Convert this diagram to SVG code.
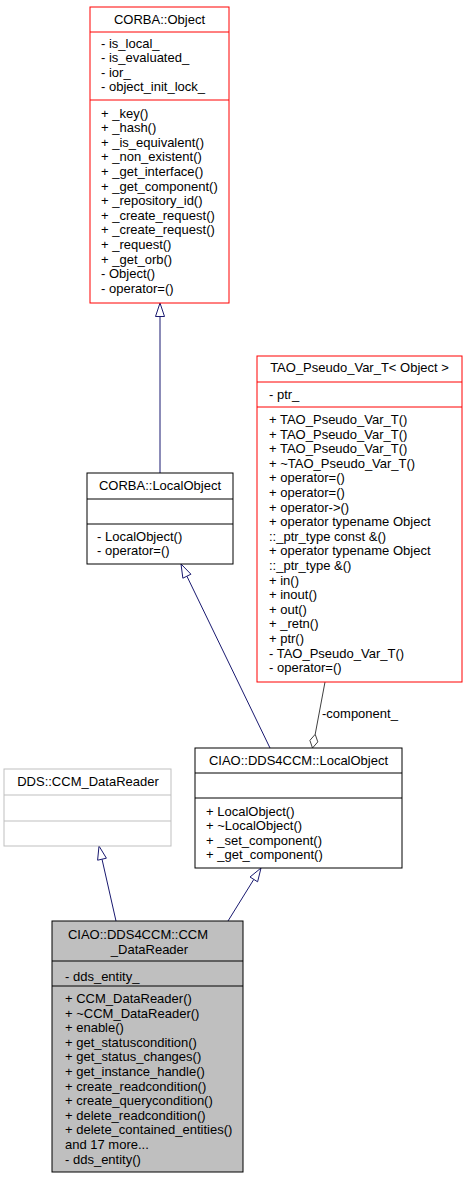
<svg xmlns="http://www.w3.org/2000/svg" width="467" height="1179" viewBox="0 0 467 1179">
<style>
text{font-family:"Liberation Sans",Arial,Helvetica,sans-serif;font-size:13px;fill:#000}
.c{text-anchor:middle}
.red{fill:#fff;stroke:#ff0000;stroke-width:1}
.blk{fill:#fff;stroke:#000;stroke-width:1}
.gry{fill:#fff;stroke:#bfbfbf;stroke-width:1}
.cur{fill:#bfbfbf;stroke:#000;stroke-width:1}
.inh{stroke:#191970;stroke-width:1;fill:none}
.inhh{stroke:#191970;stroke-width:1;fill:#fff}
.comp{stroke:#404040;stroke-width:1;fill:none}
.comph{stroke:#404040;stroke-width:1;fill:#fff}
</style>
<rect width="467" height="1179" fill="#fff"/>
<g id="connectors">
<line class="inh" x1="160" y1="316.5" x2="160" y2="473"/>
<polygon class="inhh" points="160,303 155.5,316.5 164.5,316.5"/>
<line class="inh" x1="186.9" y1="576.2" x2="270" y2="748"/>
<polygon class="inhh" points="181,564 190.95,574.2 182.85,578.2"/>
<line class="inh" x1="102" y1="859.2" x2="116" y2="921"/>
<polygon class="inhh" points="99,846 106.4,858.2 97.6,860.2"/>
<line class="inh" x1="253.8" y1="879.4" x2="228" y2="921"/>
<polygon class="inhh" points="261,868 257.6,881.8 250,877"/>
<line class="comp" x1="325" y1="682" x2="315.2" y2="734.3"/>
<polygon class="comph" points="312.5,748 309.9,740.4 315.2,734.3 317.8,741.9"/>
<text x="322" y="718">-component_</text>
</g>
<g id="corba_object">
<rect class="red" x="90" y="7" width="139" height="296"/>
<line class="red" x1="90" y1="32" x2="229" y2="32"/>
<line class="red" x1="90" y1="100" x2="229" y2="100"/>
<text class="c" x="159.5" y="23.5">CORBA::Object</text>
<text x="101" y="47.5">- is_local_</text>
<text x="101" y="62.1">- is_evaluated_</text>
<text x="101" y="76.7">- ior_</text>
<text x="101" y="91.3">- object_init_lock_</text>
<text x="101" y="117.5">+ _key()</text>
<text x="101" y="132.1">+ _hash()</text>
<text x="101" y="146.7">+ _is_equivalent()</text>
<text x="101" y="161.3">+ _non_existent()</text>
<text x="101" y="175.9">+ _get_interface()</text>
<text x="101" y="190.5">+ _get_component()</text>
<text x="101" y="205.1">+ _repository_id()</text>
<text x="101" y="219.7">+ _create_request()</text>
<text x="101" y="234.3">+ _create_request()</text>
<text x="101" y="248.9">+ _request()</text>
<text x="101" y="263.5">+ _get_orb()</text>
<text x="101" y="278.1">- Object()</text>
<text x="101" y="292.7">- operator=()</text>
</g>
<g id="corba_localobject">
<rect class="blk" x="87" y="473" width="146" height="91"/>
<line class="blk" x1="87" y1="499" x2="233" y2="499"/>
<line class="blk" x1="87" y1="524" x2="233" y2="524"/>
<text class="c" x="160" y="490">CORBA::LocalObject</text>
<text x="97" y="540.5">- LocalObject()</text>
<text x="97" y="555.1">- operator=()</text>
</g>
<g id="tao_pseudo_var">
<rect class="red" x="257" y="356" width="205" height="326"/>
<line class="red" x1="257" y1="382" x2="462" y2="382"/>
<line class="red" x1="257" y1="407" x2="462" y2="407"/>
<text class="c" x="359.5" y="372">TAO_Pseudo_Var_T&lt; Object &gt;</text>
<text x="269" y="398.5">- ptr_</text>
<text x="269" y="424">+ TAO_Pseudo_Var_T()</text>
<text x="269" y="438.6">+ TAO_Pseudo_Var_T()</text>
<text x="269" y="453.2">+ TAO_Pseudo_Var_T()</text>
<text x="269" y="467.8">+ ~TAO_Pseudo_Var_T()</text>
<text x="269" y="482.4">+ operator=()</text>
<text x="269" y="497">+ operator=()</text>
<text x="269" y="511.6">+ operator-&gt;()</text>
<text x="269" y="526.2">+ operator typename Object</text>
<text x="269" y="540.8">::_ptr_type const &amp;()</text>
<text x="269" y="555.4">+ operator typename Object</text>
<text x="269" y="570">::_ptr_type &amp;()</text>
<text x="269" y="584.6">+ in()</text>
<text x="269" y="599.2">+ inout()</text>
<text x="269" y="613.8">+ out()</text>
<text x="269" y="628.4">+ _retn()</text>
<text x="269" y="643">+ ptr()</text>
<text x="269" y="657.6">- TAO_Pseudo_Var_T()</text>
<text x="269" y="672.2">- operator=()</text>
</g>
<g id="dds_ccm_datareader">
<rect class="gry" x="4" y="769" width="167" height="77"/>
<line class="gry" x1="4" y1="795" x2="171" y2="795"/>
<line class="gry" x1="4" y1="821" x2="171" y2="821"/>
<text class="c" x="88" y="786">DDS::CCM_DataReader</text>
</g>
<g id="ciao_localobject">
<rect class="blk" x="195" y="748" width="207" height="120"/>
<line class="blk" x1="195" y1="773" x2="402" y2="773"/>
<line class="blk" x1="195" y1="798" x2="402" y2="798"/>
<text class="c" x="298.5" y="765">CIAO::DDS4CCM::LocalObject</text>
<text x="206" y="815.5">+ LocalObject()</text>
<text x="206" y="830.1">+ ~LocalObject()</text>
<text x="206" y="844.7">+ _set_component()</text>
<text x="206" y="859.3">+ _get_component()</text>
</g>
<g id="ciao_ccm_datareader">
<rect class="cur" x="52" y="921" width="191" height="251"/>
<line class="cur" x1="52" y1="961" x2="243" y2="961"/>
<line class="cur" x1="52" y1="986" x2="243" y2="986"/>
<text class="c" x="138" y="939">CIAO::DDS4CCM::CCM</text>
<text class="c" x="149.5" y="953.5">_DataReader</text>
<text x="65" y="980.5">- dds_entity_</text>
<text x="65" y="1003">+ CCM_DataReader()</text>
<text x="65" y="1017.6">+ ~CCM_DataReader()</text>
<text x="65" y="1032.2">+ enable()</text>
<text x="65" y="1046.8">+ get_statuscondition()</text>
<text x="65" y="1061.4">+ get_status_changes()</text>
<text x="65" y="1076">+ get_instance_handle()</text>
<text x="65" y="1090.6">+ create_readcondition()</text>
<text x="65" y="1105.2">+ create_querycondition()</text>
<text x="65" y="1119.8">+ delete_readcondition()</text>
<text x="65" y="1134.4">+ delete_contained_entities()</text>
<text x="65" y="1149">and 17 more...</text>
<text x="65" y="1163.6">- dds_entity()</text>
</g>
</svg>
